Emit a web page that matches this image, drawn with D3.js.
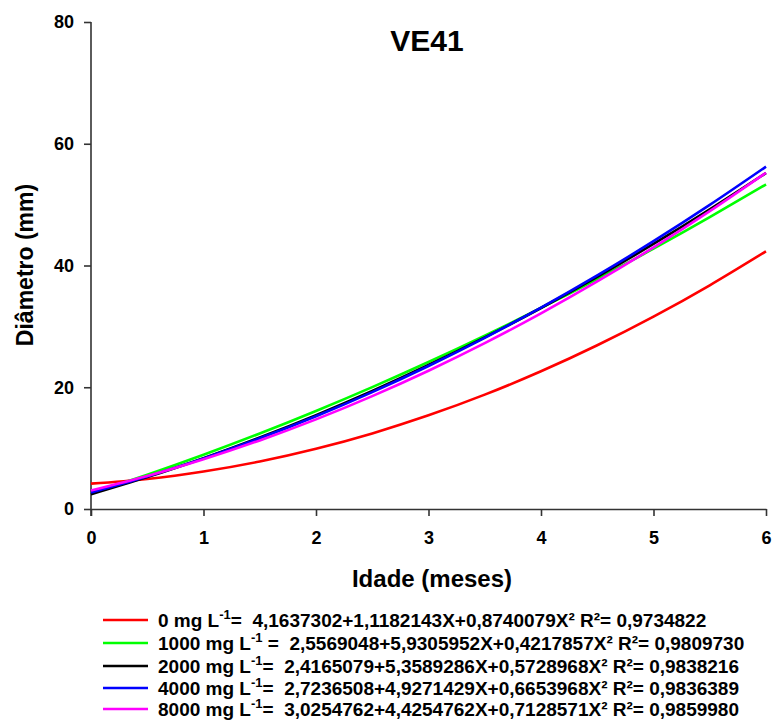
<!DOCTYPE html>
<html><head><meta charset="utf-8">
<script src="https://cdn.jsdelivr.net/npm/d3@7"></script>
<style>body{margin:0;background:#fff}svg{display:block}text{font-family:"Liberation Sans",Arial,sans-serif;font-weight:bold;fill:#000;white-space:pre}</style>
</head><body><svg id="c" width="774" height="720"></svg>
<script>
const xValues = [0,0.5,1,1.5,2,2.5,3,3.5,4,4.5,5,5.5,6];
const seriesNames = ["0 mg L","1000 mg L","2000 mg L","4000 mg L","8000 mg L"];
const seriesColors = ["#ff0000","#00ff00","#000000","#0000ff","#ff00ff"];
const equations = [
  "4,1637302+1,1182143X+0,8740079X² R²= 0,9734822",
  "2,5569048+5,9305952X+0,4217857X² R²= 0,9809730",
  "2,4165079+5,3589286X+0,5728968X² R²= 0,9838216",
  "2,7236508+4,9271429X+0,6653968X² R²= 0,9836389",
  "3,0254762+4,4254762X+0,7128571X² R²= 0,9859980"
];
const s0 = [4.164,4.941,6.156,7.808,9.896,12.422,15.384,18.784,22.621,26.894,31.605,36.753,42.337];
const s1000 = [2.557,5.628,8.909,12.402,16.105,20.020,24.145,28.481,33.028,37.786,42.755,47.934,53.325];
const s2000 = [2.417,5.239,8.348,11.744,15.426,19.394,23.649,28.191,33.019,38.133,43.534,49.221,55.194];
const s4000 = [2.724,5.354,8.316,11.612,15.240,19.200,23.494,28.120,33.078,38.370,43.994,49.952,56.241];
const s8000 = [3.025,5.416,8.164,11.268,14.728,18.545,22.718,27.247,32.133,37.375,42.974,48.929,55.241];
const seriesValues = [s0,s1000,s2000,s4000,s8000];
const xTicks = [0,1,2,3,4,5,6];
const yTicks = [0,20,40,60,80];

const svg = d3.select("#c");
const x = d3.scaleLinear().domain([0,6]).range([91,766]);
const y = d3.scaleLinear().domain([0,80]).range([509,22]);

const xAxis = svg.append("g").attr("transform","translate(0,509)")
  .call(d3.axisBottom(x).tickValues(xTicks).tickFormat(d3.format("d")).tickSize(7).tickPadding(15).tickSizeOuter(0));
const yAxis = svg.append("g").attr("transform","translate(91,0)")
  .call(d3.axisLeft(y).tickValues(yTicks).tickFormat(d3.format("d")).tickSize(7).tickPadding(10).tickSizeOuter(0));
[xAxis,yAxis].forEach(a=>{
  a.selectAll("path,line").attr("stroke","#333").attr("stroke-width",1.6);
  a.selectAll("text").style("font-size","18px").style("font-weight","bold").style("font-family","'Liberation Sans',Arial,sans-serif");
});
yAxis.select(".domain").attr("d","M0,22V516");

const line = d3.line().x((d,i)=>x(xValues[i])).y(d=>y(d)).curve(d3.curveNatural);
seriesValues.forEach((vals,k)=>{
  svg.append("path").attr("d",line(vals)).attr("fill","none")
    .attr("stroke",seriesColors[k]).attr("stroke-width",2.6);
});

svg.append("text").attr("x",427).attr("y",51).attr("text-anchor","middle")
  .style("font-size","30px").text("VE41");
svg.append("text").attr("x",432).attr("y",587).attr("text-anchor","middle")
  .style("font-size","24px").text("Idade (meses)");
svg.append("text").attr("transform","translate(33,265) rotate(-90)").attr("text-anchor","middle")
  .style("font-size","23px").text("Diâmetro (mm)");

const rowY = [620,643,666,688,709];
seriesNames.forEach((n,k)=>{
  svg.append("line").attr("x1",103).attr("x2",148).attr("y1",rowY[k]).attr("y2",rowY[k])
    .attr("stroke",seriesColors[k]).attr("stroke-width",2.6);
  const t = svg.append("text").attr("x",158).attr("y",rowY[k]+7).style("font-size","19px");
  t.append("tspan").text(n);
  t.append("tspan").attr("dy",-8).style("font-size","13px").text("-1");
  t.append("tspan").attr("dy",8).text((k===1?" =  ":"=  ")+equations[k]);
});
</script></body></html>
